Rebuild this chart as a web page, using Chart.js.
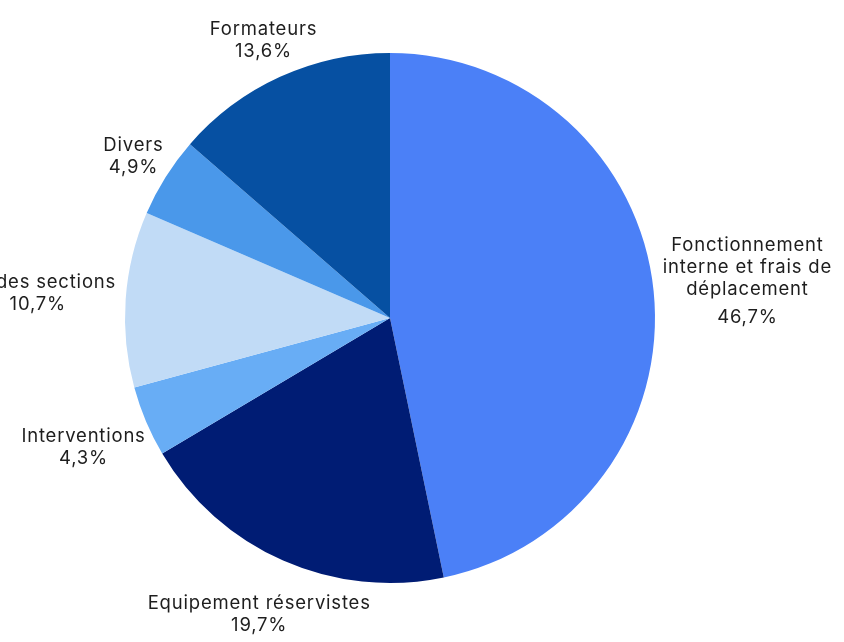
<!DOCTYPE html>
<html lang="fr">
<head>
<meta charset="utf-8">
<script src="https://cdn.jsdelivr.net/npm/chart.js@4.4.1/dist/chart.umd.min.js"></script>
<style>
  html, body { margin: 0; padding: 0; background: #ffffff; }
  #wrap { width: 844px; height: 642px; }
</style>
</head>
<body>
<div id="wrap"><canvas id="chartBudget" width="844" height="642"></canvas></div>
<script>
/* ==========================
   DONNÉES
========================== */
const categories = [
    "Fonctionnement interne et frais de déplacement",
    "Equipement réservistes",
    "Interventions",
    "Vie des sections",
    "Divers",
    "Formateurs"
];
// découpage des libellés sur plusieurs lignes
const categoryLines = [
    ["Fonctionnement", "interne et frais de", "déplacement"],
    ["Equipement réservistes"],
    ["Interventions"],
    ["Vie des sections"],
    ["Divers"],
    ["Formateurs"]
];
const shares = [46.7, 19.7, 4.3, 10.7, 4.9, 13.6];
const sliceColors = ["#4b80f7", "#001c74", "#68adf5", "#c1dbf6", "#4a98ea", "#0650a2"];

/* ==========================
   FORMATEURS
========================== */
function pct(value) {
    return value.toFixed(1).replace(".", ",") + "%";
}

/* ==========================
   PLUGIN - ÉTIQUETTES EXTÉRIEURES
========================== */
const outsideLabels = {
    id: "outsideLabels",
    afterDraw(chart) {
        const ctx = chart.ctx;
        const meta = chart.getDatasetMeta(0);
        const lineH = 22;
        ctx.save();
        ctx.font = "18.5px Inter, 'Noto Sans', sans-serif";
        ctx.letterSpacing = "0.8px";
        ctx.fillStyle = "#1e1e1e";
        ctx.textAlign = "center";
        ctx.textBaseline = "middle";

        meta.data.forEach((arc, i) => {
            const lines = categoryLines[i].concat([pct(shares[i])]);
            const gaps = lines.map((_, k) => (k === lines.length - 1 && lines.length > 2) ? lineH + 6 : lineH);
            const h = gaps.slice(1).reduce((s, g) => s + g, 0) + lineH;
            const w = Math.max(...lines.map(l => ctx.measureText(l).width));

            const mid = (arc.startAngle + arc.endAngle) / 2;
            const dx = Math.cos(mid), dy = Math.sin(mid);
            const ext = Math.sqrt(Math.pow(dx * w / 2, 2) + Math.pow(dy * h / 2, 2));
            const dist = arc.outerRadius + 10 + ext;
            const cx = arc.x + dx * dist;
            const cy = arc.y + dy * dist;

            let y = cy - h / 2 + lineH / 2;
            lines.forEach((l, k) => {
                if (k > 0) y += gaps[k];
                ctx.fillText(l, cx, y);
            });
        });
        ctx.restore();
    }
};

/* ==========================
   CHART - PIE
========================== */
new Chart(document.getElementById("chartBudget"), {
    type: "pie",
    data: {
        labels: categories,
        datasets: [{
            data: shares,
            backgroundColor: sliceColors,
            borderWidth: 0
        }]
    },
    options: {
        responsive: false,
        animation: false,
        layout: { padding: { left: 100, right: 164, top: 53, bottom: 59 } },
        plugins: {
            legend: { display: false },
            tooltip: { enabled: false }
        }
    },
    plugins: [outsideLabels]
});
</script>
</body>
</html>
